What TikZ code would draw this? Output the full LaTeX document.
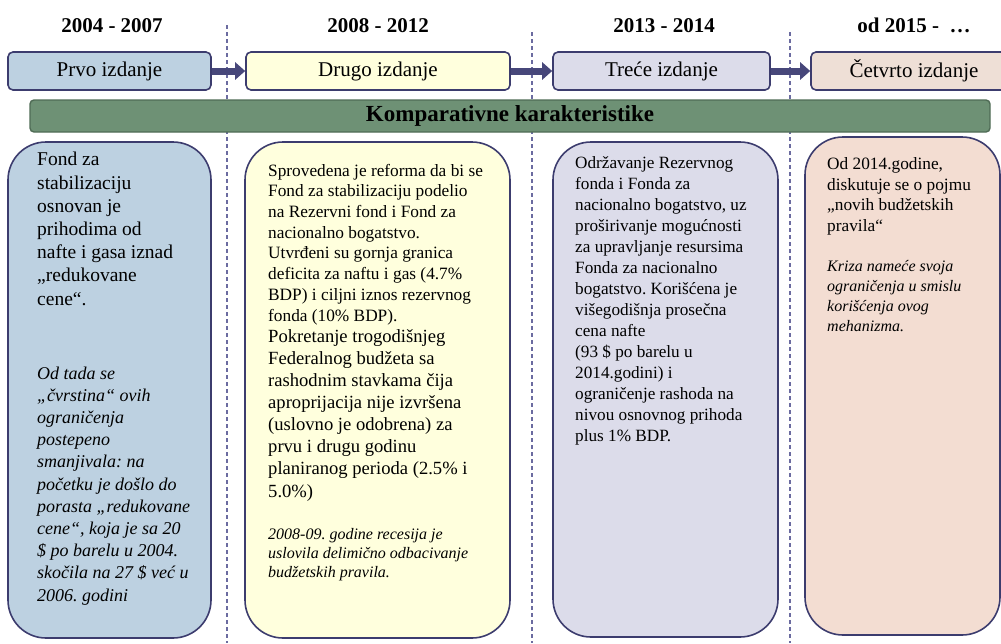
\documentclass[tikz,border=0pt]{standalone}
\usepackage{fontspec}
\setmainfont{Liberation Serif}
\usetikzlibrary{arrows.meta}
\frenchspacing
\definecolor{bluefill}{HTML}{BDD1E1}
\definecolor{yellowfill}{HTML}{FFFFDD}
\definecolor{lilacfill}{HTML}{DCDCEA}
\definecolor{peachfill}{HTML}{F3DDD2}
\definecolor{peachtop}{HTML}{EEDFD6}
\definecolor{navyline}{HTML}{3C3C6E}
\definecolor{greenfill}{HTML}{6E9175}
\definecolor{greenline}{HTML}{4F6B55}
\definecolor{dashline}{HTML}{6B6BA0}
\definecolor{arrowcol}{HTML}{47477A}
\begin{document}
\begin{tikzpicture}[x=1pt,y=-1pt,
    stage/.style={draw=navyline, line width=1.6pt, rounded corners=5pt, minimum height=38pt, inner sep=0pt, font=\fontsize{21}{25}\selectfont},
    card/.style={draw=navyline, line width=1.6pt, rounded corners=38pt},
    period/.style={font=\bfseries\fontsize{21}{25}\selectfont, anchor=base},
    note/.style={anchor=base west, align=left, inner sep=0pt}, % base = last line
    stage arrow/.style={arrowcol, line width=7pt, -{Triangle[length=10pt,width=17pt]}},
    divider/.style={dashline, line width=1.2pt, dash pattern=on 4pt off 3pt}]
    \useasboundingbox (0,0) rectangle (1001,643);

    % periods
    \node[period] (y1) at (112,32) {2004 - 2007};
    \node[period] (y2) at (378,32) {2008 - 2012};
    \node[period] (y3) at (664,32) {2013 - 2014};
    \node[period] (y4) at (914,32) {od 2015 -\ \ …};

    % separators
    \draw[divider] (227,25) -- (227,643);
    \draw[divider] (532,32) -- (532,643);
    \draw[divider] (790,32) -- (790,643);

    % editions
    \node[stage, fill=bluefill, minimum width=203pt] (prvo) at (109.5,71) {Prvo izdanje};
    \node[stage, fill=yellowfill, minimum width=264pt] (drugo) at (378,71) {Drugo izdanje};
    \node[stage, fill=lilacfill, minimum width=217pt] (trece) at (661.5,71) {Treće izdanje};
    \node[stage, fill=peachtop, minimum width=206pt] (cetvrto) at (914,71) {Četvrto izdanje};

    \draw[stage arrow] (prvo) -- (drugo);
    \draw[stage arrow] (drugo) -- (trece);
    \draw[stage arrow] (trece) -- (cetvrto);

    \node[draw=greenline, fill=greenfill, line width=1.4pt, rounded corners=4pt, minimum width=960pt, minimum height=32pt, inner sep=0pt, font=\bfseries\fontsize{23}{27}\selectfont] (komp) at (510,116) {Komparativne karakteristike};

    % cards
    \draw[card, fill=bluefill] (8,142) rectangle (211,638);
    \draw[card, fill=yellowfill] (245,142) rectangle (510,638);
    \draw[card, fill=lilacfill] (553,142) rectangle (778,637);
    \draw[card, fill=peachfill] (805,137) rectangle (1000,635);

    \node[note, font=\fontsize{19.5}{23.2}\selectfont] (fond) at (37,305)
        {Fond za\\stabilizaciju\\osnovan je\\prihodima od\\nafte i gasa iznad\\„redukovane\\cene“.};
    \node[note, font=\itshape\fontsize{18}{22.2}\selectfont] (fondnote) at (37,601)
        {Od tada se\\„čvrstina“ ovih\\ograničenja\\postepeno\\smanjivala: na\\početku je došlo do\\porasta „redukovane\\cene“, koja je sa 20\\\$ po barelu u 2004.\\skočila na 27 \$ već u\\2006. godini};

    \node[note, font=\fontsize{17.3}{20.7}\selectfont] (reforma) at (268,321)
        {Sprovedena je reforma da bi se\\Fond za stabilizaciju podelio\\na Rezervni fond i Fond za\\nacionalno bogatstvo.\\Utvrđeni su gornja granica\\deficita za naftu i gas (4.7\%\\BDP) i ciljni iznos rezervnog\\fonda (10\% BDP).};
    \node[note, font=\fontsize{18.6}{22.1}\selectfont] (budzet) at (268,497)
        {Pokretanje trogodišnjeg\\Federalnog budžeta sa\\rashodnim stavkama čija\\aproprijacija nije izvršena\\(uslovno je odobrena) za\\prvu i drugu godinu\\planiranog perioda (2.5\% i\\5.0\%)};
    \node[note, font=\itshape\fontsize{16}{19}\selectfont] (recesija) at (268,577)
        {2008-09. godine recesija je\\uslovila delimično odbacivanje\\budžetskih pravila.};

    \node[note, font=\fontsize{17.2}{21}\selectfont] (rezerva) at (575,441)
        {Održavanje Rezervnog\\fonda i Fonda za\\nacionalno bogatstvo, uz\\proširivanje mogućnosti\\za upravljanje resursima\\Fonda za nacionalno\\bogatstvo. Korišćena je\\višegodišnja prosečna\\cena nafte\\(93 \$ po barelu u\\2014.godini) i\\ograničenje rashoda na\\nivou osnovnog prihoda\\plus 1\% BDP.};

    \node[note, font=\fontsize{17.3}{20.5}\selectfont] (pravila) at (827,231)
        {Od 2014.godine,\\diskutuje se o pojmu\\„novih budžetskih\\pravila“};
    \node[note, font=\itshape\fontsize{16}{20}\selectfont] (kriza) at (827,331)
        {Kriza nameće svoja\\ograničenja u smislu\\korišćenja ovog\\mehanizma.};
\end{tikzpicture}
\end{document}
